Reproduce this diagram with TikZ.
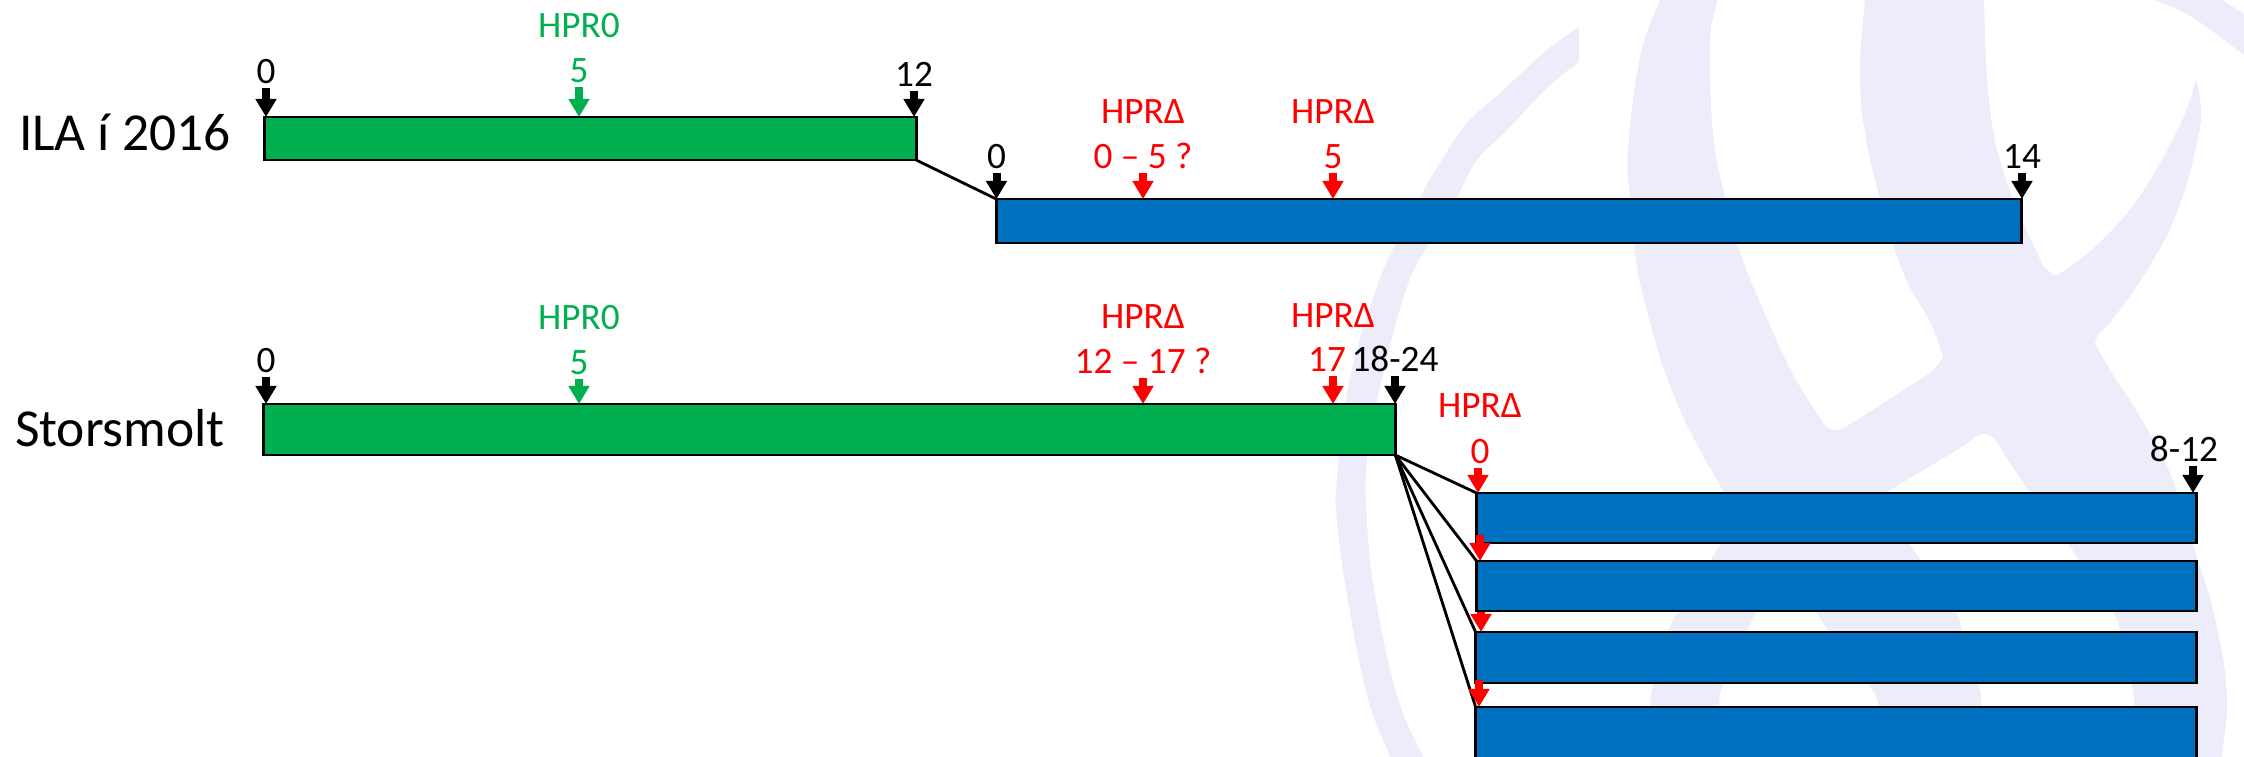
\documentclass[tikz,border=0pt]{standalone}
\usepackage{fontspec}
\setmainfont{Carlito}
\usetikzlibrary{arrows.meta}
\definecolor{hprgreen}{HTML}{00B050}
\definecolor{barblue}{HTML}{0070C0}
\definecolor{logotint}{HTML}{EDECFB}
\begin{document}
\begin{tikzpicture}[
        x=0.01cm,y=-0.01cm,
        bar/.style={rectangle,draw=black,line width=.8pt,outer sep=0pt,inner sep=0pt},
        greenbar/.style={bar,fill=hprgreen,minimum width=#1},
        bluebar/.style={bar,fill=barblue,minimum width=#1},
        lbl/.style={inner sep=0pt,outer sep=0pt,anchor=base,font=\fontsize{10.6}{12}\selectfont},
        rowname/.style={inner sep=0pt,outer sep=0pt,anchor=base west,font=\fontsize{15.2}{18}\selectfont},
        tick/.style={line width=.08cm,shorten <=.045cm,-{Triangle[width=.2cm,length=.18cm]}},
        link/.style={line width=.8pt}
        ]

        \path[use as bounding box,clip] (0,0) rectangle (2244,756);

        \fill[logotint] plot[smooth,tension=.7] coordinates {(1579,27) (1547,50) (1500,93) (1467,123) (1440,163) (1420,197) (1395,245) (1377,287) (1350,378) (1337,478) (1337,521) (1347,595) (1367,695) (1390,756) (1405,790)}
            -- plot[smooth,tension=.7] coordinates {(1440,790) (1423,756) (1397,695) (1375,595) (1367,521) (1367,461) (1382,378) (1407,287) (1428,245) (1457,197) (1477,160) (1507,130) (1547,88) (1579,62)} -- cycle;
        \fill[logotint] plot[smooth,tension=.7] coordinates {(1668,-20) (1660,0) (1640,57) (1628,150) (1630,197) (1637,267) (1653,333) (1667,378) (1690,431) (1723,491) (1737,517)}
            -- plot[smooth,tension=.7] coordinates {(1737,517) (1712,558) (1668,631) (1652,690) (1648,756) (1648,790)}
            -- plot[smooth,tension=.7] coordinates {(1715,790) (1716,756) (1719,706) (1723,685) (1747,631) (1757,611) (1781,563)}
            -- plot[smooth,tension=.7] coordinates {(1781,563) (1815,611) (1829,631) (1869,685) (1879,706) (1895,756) (1905,790)}
            -- plot[smooth,tension=.7] coordinates {(1995,790) (1992,756) (1982,706) (1979,685) (1962,631) (1955,611) (1915,552) (1880,500)}
            -- plot[smooth,tension=.7] coordinates {(1880,500) (1889,491) (1960,448) (1975,437) (1985,434) (1995,439) (2005,455) (2029,491) (2069,545) (2112,611) (2120,631) (2132,685) (2134,706) (2136,756) (2136,790)}
            -- plot[smooth,tension=.7] coordinates {(2222,790) (2222,756) (2227,695) (2215,618) (2195,551) (2172,478) (2139,415) (2115,378) (2097,347) (2096,340) (2100,332) (2112,320) (2149,267) (2179,207) (2199,133) (2200,100) (2196,80)}
            -- plot[smooth,tension=.7] coordinates {(2196,80) (2179,127) (2139,197) (2099,243) (2065,270) (2055,275) (2048,270) (2039,257) (2005,177) (1989,100) (1984,0) (1984,-20)}
            -- plot[smooth,tension=.7] coordinates {(1865,-20) (1865,0) (1860,67) (1865,133) (1885,217) (1905,277) (1929,320) (1941,350) (1942,358) (1935,368) (1922,378) (1855,421) (1843,428) (1835,430) (1827,427) (1822,421) (1795,378) (1772,330) (1740,253) (1725,197) (1713,133) (1710,43) (1717,0) (1718,-20)} -- cycle;
        \fill[logotint] plot[smooth,tension=.7] coordinates {(2115,-20) (2155,0) (2192,17) (2244,55) (2262,68)} -- (2262,25) -- (2222,0) -- (2190,-20) -- cycle;

        \node (ila) at (19,150) [rowname] {ILA í 2016};
        \node (stor) at (15,446) [rowname] {Storsmolt};

        \node (gIla) at (590.5,138.5) [greenbar=6.51cm,minimum height=.43cm] {};
        \node (bIla) at (1508.9,221) [bluebar=10.248cm,minimum height=.44cm] {};
        \node (gStor) at (829.25,429.5) [greenbar=11.315cm,minimum height=.51cm] {};
        \node (bOne) at (1836.4,518) [bluebar=7.192cm,minimum height=.5cm] {};
        \node (bTwo) at (1836.4,586) [bluebar=7.192cm,minimum height=.5cm] {};
        \node (bThree) at (1835.9,657.5) [bluebar=7.202cm,minimum height=.51cm] {};
        \node (bFour) at (1835.9,750) [bluebar=7.202cm,minimum height=.86cm] {};

        \draw[link] (gIla.south east) to (bIla.north west);
        \draw[link] (gStor.south east) to (bOne.north west);
        \draw[link] (gStor.south east) to (bTwo.north west);
        \draw[link] (gStor.south east) to (bThree.north west);
        \draw[link] (gStor.south east) to (bFour.north west);

        \node (hprA) at (579,37) [lbl,text=hprgreen] {HPR0};
        \node (fiveA) at (579,82) [lbl,text=hprgreen] {5};
        \node (zeroA) at (266,83) [lbl] {0};
        \node (twelve) at (914,86) [lbl] {12};
        \node (zeroB) at (996.5,168) [lbl] {0};
        \node (hprB) at (1143,123) [lbl,text=red] {HPRΔ};
        \node (rangeA) at (1143,168) [lbl,text=red] {0 – 5 ?};
        \node (hprC) at (1333,123) [lbl,text=red] {HPRΔ};
        \node (fiveB) at (1333,168) [lbl,text=red] {5};
        \node (fourteen) at (2022,168) [lbl] {14};

        \node (hprD) at (579,329) [lbl,text=hprgreen] {HPR0};
        \node (fiveC) at (579,374) [lbl,text=hprgreen] {5};
        \node (zeroC) at (266,372) [lbl] {0};
        \node (hprE) at (1143,328) [lbl,text=red] {HPRΔ};
        \node (rangeB) at (1143,373) [lbl,text=red] {12 – 17 ?};
        \node (hprF) at (1333,327) [lbl,text=red] {HPRΔ};
        \node (seventeen) at (1327,371) [lbl,text=red] {17};
        \node (span) at (1395,371) [lbl] {18-24};
        \node (hprG) at (1480,417) [lbl,text=red] {HPRΔ};
        \node (zeroD) at (1480,463) [lbl,text=red] {0};
        \node (eight) at (2184,461) [lbl] {8-12};

        \coordinate (redTwo) at (1480,535);
        \coordinate (redThree) at (1481,612);
        \coordinate (redFour) at (1479,680);

        \draw[tick] (zeroA.south) to (zeroA.south |- gIla.north);
        \draw[tick,hprgreen] (fiveA.south) to (fiveA.south |- gIla.north);
        \draw[tick] (twelve.south) to (twelve.south |- gIla.north);
        \draw[tick] (zeroB.south) to (zeroB.south |- bIla.north);
        \draw[tick,red] (rangeA.south) to (rangeA.south |- bIla.north);
        \draw[tick,red] (fiveB.south) to (fiveB.south |- bIla.north);
        \draw[tick] (fourteen.south) to (fourteen.south |- bIla.north);
        \draw[tick] (zeroC.south) to (zeroC.south |- gStor.north);
        \draw[tick,hprgreen] (fiveC.south) to (fiveC.south |- gStor.north);
        \draw[tick,red] (rangeB.south) to (rangeB.south |- gStor.north);
        \draw[tick,red] ([xshift=.06cm]seventeen.south) to ([xshift=.06cm]seventeen.south |- gStor.north);
        \draw[tick] (span.south) to (span.south |- gStor.north);
        \draw[tick,red] ([xshift=-.02cm]zeroD.south) to ([xshift=-.02cm]zeroD.south |- bOne.north);
        \draw[tick] ([xshift=.09cm]eight.south) to ([xshift=.09cm]eight.south |- bOne.north);
        \draw[tick,red,shorten <=0pt] (redTwo) to (redTwo |- bTwo.north);
        \draw[tick,red,shorten <=0pt] (redThree) to (redThree |- bThree.north);
        \draw[tick,red,shorten <=0pt] (redFour) to (redFour |- bFour.north);
\end{tikzpicture}
\end{document}
